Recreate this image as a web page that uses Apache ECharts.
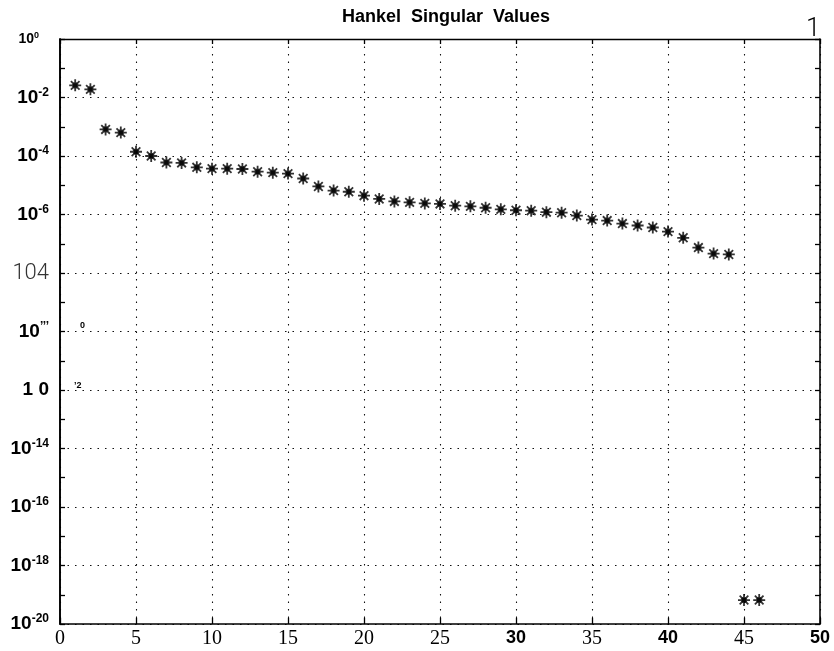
<!DOCTYPE html>
<html>
<head>
<meta charset="utf-8">
<title>Hankel Singular Values</title>
<script src="https://cdn.jsdelivr.net/npm/echarts@6/dist/echarts.min.js"></script>
<style>
  html, body { margin: 0; padding: 0; background: #fff; }
  #chart { width: 834px; height: 651px; }
</style>
</head>
<body>
<div id="chart"></div>
<script>
// Hankel singular values of the model, in order of state index
const hsv = [
  2.6e-2, 1.9e-2, 8.1e-4, 6.3e-4, 1.4e-4, 1.0e-4, 6.0e-5, 5.8e-5, 4.1e-5, 3.7e-5,
  3.7e-5, 3.6e-5, 2.9e-5, 2.7e-5, 2.5e-5, 1.7e-5, 9.1e-6, 6.6e-6, 6.0e-6, 4.4e-6,
  3.4e-6, 2.8e-6, 2.6e-6, 2.4e-6, 2.3e-6, 2.0e-6, 1.9e-6, 1.7e-6, 1.5e-6, 1.4e-6,
  1.35e-6, 1.2e-6, 1.15e-6, 9.2e-7, 6.7e-7, 6.2e-7, 4.9e-7, 4.2e-7, 3.6e-7, 2.6e-7,
  1.6e-7, 7.4e-8, 4.6e-8, 4.3e-8, 6.6e-20, 6.6e-20
];

// y tick labels, keyed by decade exponent
const yTickExponents = [0, -2, -4, -6, -8, -10, -12, -14, -16, -18, -20];
const yTickLabels = [
  '{small|10}{smallSup|0}',
  '{b|10}{sup|-2}',
  '{b|10}{sup|-4}',
  '{b|10}{sup|-6}',
  '{thin|104}',
  '{b|10}{sup|’’’}',
  '{b|1 0}',
  '{b|10}{sup|-14}',
  '{b|10}{sup|-16}',
  '{b|10}{sup|-18}',
  '{b|10}{sup|-20}'
];

// x tick labels
const xTickValues = [0, 5, 10, 15, 20, 25, 30, 35, 40, 45, 50];
const xTickLabels = [
  '{serif|0}', '{serif|5}', '{serif|10}', '{serif|15}', '{serif|20}', '{serif|25}',
  '{sans|30}', '{serif|35}', '{sans|40}', '{serif|45}', '{sans|50}'
];

const points = hsv.map((v, i) => [i + 1, v]);

const starPath = 'path://M5,0L5,10M0,5L10,5M1.4,1.4L8.6,8.6M1.4,8.6L8.6,1.4M3.2,3.2L6.8,3.2L6.8,6.8L3.2,6.8Z';

const gridDots = { color: '#111', width: 1.1, type: [1.5, 6] };
const axisLineStyle = { color: '#000', width: 1.6 };
const sansFont = 'Liberation Sans, Arial, sans-serif';

const chart = echarts.init(document.getElementById('chart'), null, { renderer: 'canvas' });

const logAxisBase = {
  type: 'log',
  logBase: 10,
  min: 1e-20,
  max: 1,
  axisLine: { show: true, onZero: false, lineStyle: axisLineStyle },
  axisTick: { show: true, inside: true, length: 5, lineStyle: { color: '#000', width: 1.3 } },
  axisLabel: { show: false },
  splitLine: { show: false }
};

chart.setOption({
  animation: false,
  backgroundColor: '#fff',
  title: {
    text: 'Hankel  Singular  Values',
    left: 441,
    textAlign: 'center',
    top: 3,
    textStyle: {
      fontFamily: sansFont,
      fontSize: 18,
      fontWeight: 'bold',
      color: '#000'
    }
  },
  grid: { left: 60, right: 14, top: 39, bottom: 27, containLabel: false },
  xAxis: [
    {
      type: 'value',
      min: 0,
      max: 50,
      interval: 5,
      position: 'bottom',
      axisLine: { show: true, onZero: false, lineStyle: axisLineStyle },
      axisTick: { show: true, inside: true, length: 6, lineStyle: { color: '#000', width: 1.3 } },
      splitLine: { show: true, lineStyle: gridDots },
      axisLabel: {
        margin: 5,
        formatter: (v) => {
          const k = xTickValues.indexOf(Math.round(v));
          return k >= 0 ? xTickLabels[k] : '';
        },
        rich: {
          serif: { fontFamily: 'Liberation Serif, Times New Roman, serif', fontSize: 20, color: '#000' },
          sans: { fontFamily: sansFont, fontSize: 18, fontWeight: 'bold', color: '#000' }
        }
      }
    },
    {
      type: 'value',
      min: 0,
      max: 50,
      interval: 5,
      position: 'top',
      axisLine: { show: true, onZero: false, lineStyle: { color: '#000', width: 1.3 } },
      axisTick: { show: true, inside: true, length: 5, lineStyle: { color: '#000', width: 1.3 } },
      axisLabel: { show: false },
      splitLine: { show: false }
    }
  ],
  yAxis: [
    Object.assign({}, logAxisBase, {
      position: 'left',
      interval: 2,
      axisTick: { show: false },
      splitLine: { show: true, lineStyle: gridDots },
      axisLabel: {
        show: true,
        margin: 11,
        formatter: (v) => {
          const e = Math.round(Math.log10(v));
          const k = yTickExponents.indexOf(e);
          return k >= 0 ? yTickLabels[k] : '';
        },
        rich: {
          b: { fontFamily: sansFont, fontSize: 19, fontWeight: 'bold', color: '#000' },
          sup: { fontFamily: sansFont, fontSize: 12, fontWeight: 'bold', color: '#000', verticalAlign: 'top', padding: [0, 0, 10, 0] },
          small: { fontFamily: sansFont, fontSize: 14, fontWeight: 'bold', color: '#000' },
          smallSup: { fontFamily: sansFont, fontSize: 9, fontWeight: 'bold', color: '#000', verticalAlign: 'top', padding: [0, 10, 6, 0] },
          thin: { fontFamily: 'Roboto, Liberation Sans, sans-serif', fontSize: 22, fontWeight: 300, color: '#333' }
        }
      }
    }),
    Object.assign({}, logAxisBase, { position: 'left', interval: 1 }),
    Object.assign({}, logAxisBase, { position: 'right', interval: 1 })
  ],
  series: [
    {
      type: 'scatter',
      xAxisIndex: 0,
      yAxisIndex: 0,
      data: points,
      symbol: starPath,
      symbolSize: 12,
      itemStyle: { color: '#000', borderColor: '#000', borderWidth: 1.8 },
      emphasis: { disabled: true }
    }
  ],
  graphic: [
    { type: 'text', left: 80, top: 321, style: { text: '0', fontFamily: sansFont, fontSize: 9, fontWeight: 'bold', fill: '#000' } },
    { type: 'text', left: 74, top: 381, style: { text: '’2', fontFamily: sansFont, fontSize: 9, fontWeight: 'bold', fill: '#000' } },
    { type: 'text', left: 806, top: 16, style: { text: '1', fontFamily: 'Roboto, Liberation Sans, sans-serif', fontSize: 26, fontWeight: 300, fill: '#000' } }
  ]
});
</script>
</body>
</html>
